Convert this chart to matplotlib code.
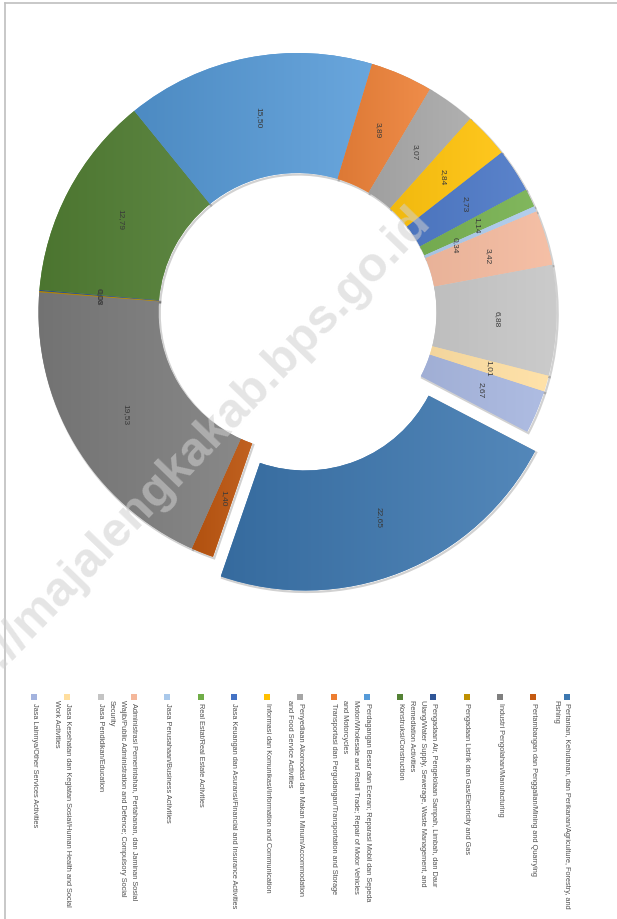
import numpy as np
import matplotlib
matplotlib.use('Agg')
import matplotlib.pyplot as plt
from matplotlib.colors import LinearSegmentedColormap, to_rgb
from matplotlib.patches import Rectangle, Wedge

# distribusi PDRB menurut lapangan usaha (persen)
sectors = [
    ['Pertanian, Kehutanan, dan Perikanan/Agriculture, Forestry, and', 'Fishing'],
    ['Pertambangan dan Penggalian/Mining and Quarrying'],
    ['Industri Pengolahan/Manufacturing'],
    ['Pengadaan Listrik dan Gas/Electricity and Gas'],
    ['Pengadaan Air, Pengelolaan Sampah, Limbah, dan Daur',
     'Ulang/Water Supply, Sewerage, Waste Management, and',
     'Remediation Activities'],
    ['Konstruksi/Construction'],
    ['Perdagangan Besar dan Eceran; Reparasi Mobil dan Sepeda',
     'Motor/Wholesale and Retail Trade; Repair of Motor Vehicles',
     'and Motorcycles'],
    ['Transportasi dan Pergudangan/Transportation and Storage'],
    ['Penyediaan Akomodasi dan Makan Minum/Accommodation',
     'and Food Service Activities'],
    ['Informasi dan Komunikasi/Information and Communication'],
    ['Jasa Keuangan dan Asuransi/Financial and Insurance Activities'],
    ['Real Estat/Real Estate Activities'],
    ['Jasa Perusahaan/Business Activities'],
    ['Administrasi Pemerintahan, Pertahanan, dan Jaminan Sosial',
     'Wajib/Public Administration and Defence; Compulsory Social',
     'Security'],
    ['Jasa Pendidikan/Education'],
    ['Jasa Kesehatan dan Kegiatan Sosial/Human Health and Social',
     'Work Activities'],
    ['Jasa Lainnya/Other Services Activities'],
]
values = [22.65, 1.40, 19.53, 0.08, 0.06, 12.79, 15.50, 3.89, 3.07,
          2.84, 2.73, 1.14, 0.34, 3.42, 6.88, 1.01, 2.67]
colors = ['#3C77B0', '#C55A11', '#7F7F7F', '#BF9000', '#2F5597', '#548235',
          '#559AD8', '#ED7D31', '#A5A5A5', '#FFC000', '#4472C4', '#70AD47',
          '#A9C8EA', '#F4B79A', '#C4C4C4', '#FFDE9E', '#A3B3DE']


def shade(c, f):
    r = np.array(to_rgb(c))
    if f < 1:
        return tuple(r * f)
    return tuple(r + (1 - r) * (f - 1))


H = 920
fig = plt.figure(figsize=(6.17, 9.2), dpi=100)
ax = fig.add_axes([0, 0, 1, 1])

cx, cy = 297.5, H - 313
r_out, r_in = 259, 139
explode = [21] + [0] * (len(values) - 1)

wedges, _, autotexts = ax.pie(
    values, colors=colors, startangle=-27.5, counterclock=False,
    radius=r_out, center=(cx, cy), explode=explode,
    wedgeprops=dict(width=r_out - r_in, linewidth=0),
    autopct='%1.1f', pctdistance=0.77,
    textprops=dict(fontsize=6, color='#3a3a3a', family='Liberation Sans'))

# gradien tiap potongan + bayangan tipis
for w, c in zip(wedges, colors):
    v = w.get_path().vertices
    x0, x1 = v[:, 0].min(), v[:, 0].max()
    y0, y1 = v[:, 1].min(), v[:, 1].max()
    cmap = LinearSegmentedColormap.from_list('g', [shade(c, 0.9), shade(c, 1.12)])
    im = ax.imshow(np.linspace(0, 1, 64).reshape(1, -1), cmap=cmap,
                   extent=(x0, x1, y0, y1), aspect='auto', zorder=1.5,
                   interpolation='bilinear')
    im.set_clip_path(w)
    sh = Wedge((w.center[0] + 1.2, w.center[1] - 1.5), w.r, w.theta1, w.theta2,
               width=w.width, facecolor='none', edgecolor=(0, 0, 0, 0.18),
               linewidth=1.6, zorder=0.9)
    ax.add_patch(sh)

for t, val in zip(autotexts, values):
    t.set_text(f'{val:.2f}'.replace('.', ','))
    t.set_rotation(-90)
    t.set_zorder(3)

# label 0,34 digeser ke dalam seperti pada grafik asli
i = values.index(0.34)
px, py = autotexts[i].get_position()
autotexts[i].set_position((cx + (px - cx) * 0.86, cy + (py - cy) * 0.86))

# watermark
ax.text(432, H - 222, 'http://majalengkakab.bps.go.id', rotation=46,
        rotation_mode='anchor', ha='right', va='baseline', fontsize=35,
        fontweight='bold', family='Liberation Sans', color='#d0d0d0',
        alpha=0.55, zorder=4)

# legenda (diputar)
for k, (lines, c) in enumerate(zip(sectors, colors)):
    x = 566.5 - 33.27 * k
    ax.add_patch(Rectangle((x - 3, H - 701), 6, 6, facecolor=c,
                           edgecolor='none', zorder=3))
    for j, line in enumerate(lines):
        ax.text(x + 3.7 - 11.3 * j, H - (703 if j == 0 else 700), line,
                rotation=-90, rotation_mode='anchor', ha='left', va='top',
                fontsize=5.3, color='#505050', family='Liberation Sans')

# bingkai area grafik
ax.plot([4.5, 4.5], [0, H - 3.5], color='#bfbfbf', lw=1.2)
ax.plot([4.5, 617], [H - 3.5, H - 3.5], color='#bfbfbf', lw=1.2)

ax.set_xlim(0, 617)
ax.set_ylim(0, H)
ax.axis('off')
fig.savefig('out.png', dpi=100)
